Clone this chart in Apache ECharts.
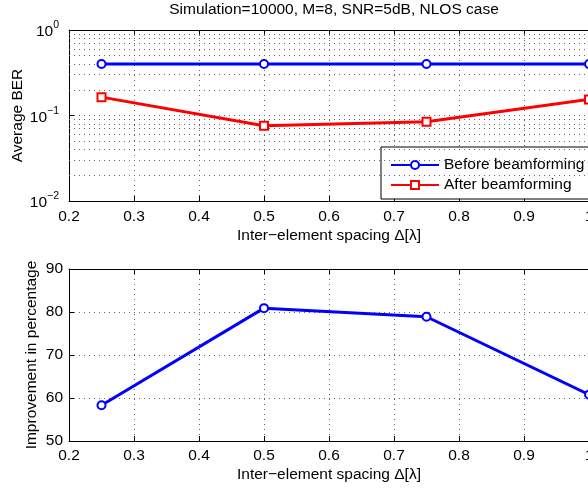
<!DOCTYPE html>
<html>
<head>
<meta charset="utf-8">
<script src="https://cdn.jsdelivr.net/npm/echarts@6/dist/echarts.min.js"></script>
<style>
  html, body { margin: 0; padding: 0; background: #fff; }
  #chart { width: 588px; height: 489px; }
</style>
</head>
<body>
<div id="chart"></div>
<script>
// Inter-element spacing (in wavelengths)
var spacing = [0.25, 0.5, 0.75, 1.0];
// Average BER before / after beamforming
var berBefore = [0.4, 0.4, 0.4, 0.4];
var berAfter = [0.164, 0.0757, 0.0843, 0.154];
// Improvement in percentage
var improvement = [58.3, 80.9, 78.9, 60.8];
// Minor grid levels on the log BER axis
var berMinorLevels = [0.02, 0.03, 0.04, 0.05, 0.06, 0.07, 0.08, 0.09,
                      0.2, 0.3, 0.4, 0.5, 0.6, 0.7, 0.8, 0.9];

var FONT = 'Liberation Sans, Arial, Helvetica, sans-serif';
var FS = 15.5;
var dotted = { color: '#666', width: 1, type: [1, 4] };

function pairs(xs, ys) {
  return xs.map(function (x, i) { return [x, ys[i]]; });
}

function xAxisMain(gridIndex, labelMargin, nameGap) {
  return {
    type: 'value', gridIndex: gridIndex, position: 'bottom',
    min: 0.2, max: 1, interval: 0.1,
    name: 'Inter\u2212element spacing \u0394[\u03bb]',
    nameLocation: 'middle', nameGap: nameGap, nameMoveOverlap: false,
    nameTextStyle: { fontFamily: FONT, fontSize: FS, color: '#000' },
    axisLine: { show: true, onZero: false, lineStyle: { color: '#000', width: 1 } },
    axisTick: { show: true, inside: true, length: 5, lineStyle: { color: '#000' } },
    axisLabel: {
      fontFamily: FONT, fontSize: FS, color: '#000', margin: labelMargin,
      hideOverlap: false,
      formatter: function (v) { return String(Math.round(v * 10) / 10); }
    },
    splitLine: { show: true, lineStyle: dotted }
  };
}

function xAxisTop(gridIndex) {
  return {
    type: 'value', gridIndex: gridIndex, position: 'top',
    min: 0.2, max: 1, interval: 0.1,
    axisLine: { show: true, onZero: false, lineStyle: { color: '#000', width: 1 } },
    axisTick: { show: true, inside: true, length: 5, lineStyle: { color: '#000' } },
    axisLabel: { show: false },
    splitLine: { show: false }
  };
}

var chart = echarts.init(document.getElementById('chart'), null, { renderer: 'canvas' });

chart.setOption({
  backgroundColor: '#fff',
  animation: false,
  title: {
    text: 'Simulation=10000, M=8, SNR=5dB, NLOS case',
    left: 329, top: -3, textAlign: 'center',
    textStyle: { fontFamily: FONT, fontSize: FS, fontWeight: 'normal', color: '#000' }
  },
  grid: [
    { left: 69, top: 30, width: 520, height: 171, outerBoundsMode: 'none', containLabel: false },
    { left: 69, top: 269, width: 520, height: 172, outerBoundsMode: 'none', containLabel: false }
  ],
  xAxis: [
    xAxisMain(0, 8, 27),
    xAxisTop(0),
    xAxisMain(1, 7, 26),
    xAxisTop(1)
  ],
  yAxis: [
    {
      type: 'log', logBase: 10, gridIndex: 0, min: 0.01, max: 1,
      name: 'Average BER', nameLocation: 'middle', nameGap: 43, nameMoveOverlap: false,
      nameTextStyle: { fontFamily: FONT, fontSize: FS, color: '#000' },
      axisLine: { show: true, onZero: false, lineStyle: { color: '#000', width: 1 } },
      axisTick: { show: true, inside: true, length: 5, lineStyle: { color: '#000' } },
      axisLabel: {
        margin: 10,
        formatter: function (v) {
          var e = Math.round(Math.log10(v));
          var s = e < 0 ? '\u2212' + (-e) : String(e);
          return '{b|10}{s|' + s + '}';
        },
        rich: {
          b: { fontFamily: FONT, fontSize: FS, color: '#000', verticalAlign: 'bottom', lineHeight: 20 },
          s: { fontFamily: FONT, fontSize: 10.5, color: '#000', verticalAlign: 'top', lineHeight: 20 }
        }
      },
      splitLine: { show: true, lineStyle: dotted }
    },
    {
      type: 'value', gridIndex: 1, min: 50, max: 90, interval: 10,
      name: 'Improvement in percentage', nameLocation: 'middle', nameGap: 29, nameMoveOverlap: false,
      nameTextStyle: { fontFamily: FONT, fontSize: FS, color: '#000' },
      axisLine: { show: true, onZero: false, lineStyle: { color: '#000', width: 1 } },
      axisTick: { show: true, inside: true, length: 5, lineStyle: { color: '#000' } },
      axisLabel: { fontFamily: FONT, fontSize: FS, color: '#000', margin: 6 },
      splitLine: { show: true, lineStyle: dotted }
    }
  ],
  legend: {
    data: ['Before beamforming', 'After beamforming'],
    left: 381, top: 147,
    orient: 'vertical',
    backgroundColor: '#fff',
    borderColor: '#000', borderWidth: 1, borderRadius: 0,
    padding: [10, 20, 6, 9],
    itemWidth: 48, itemHeight: 10, itemGap: 4,
    textStyle: { fontFamily: FONT, fontSize: FS, color: '#000' }
  },
  series: [
    {
      name: 'Before beamforming', type: 'line',
      xAxisIndex: 0, yAxisIndex: 0,
      data: pairs(spacing, berBefore),
      color: '#0000ff',
      lineStyle: { color: '#0000ff', width: 3 },
      symbol: 'emptyCircle', symbolSize: 8,
      itemStyle: { color: '#0000ff', borderColor: '#0000ff', borderWidth: 3 },
      z: 5,
      markLine: {
        silent: true, symbol: 'none', label: { show: false },
        lineStyle: dotted, animation: false,
        data: berMinorLevels.map(function (v) { return { yAxis: v }; })
      }
    },
    {
      name: 'After beamforming', type: 'line',
      xAxisIndex: 0, yAxisIndex: 0,
      data: pairs(spacing, berAfter),
      color: '#ff0000',
      lineStyle: { color: '#ff0000', width: 3 },
      symbol: 'emptyRect', symbolSize: 8,
      itemStyle: { color: '#ff0000', borderColor: '#ff0000', borderWidth: 3 },
      z: 5
    },
    {
      name: 'Improvement', type: 'line',
      xAxisIndex: 2, yAxisIndex: 1,
      data: pairs(spacing, improvement),
      lineStyle: { color: '#0000ff', width: 3 },
      symbol: 'emptyCircle', symbolSize: 8,
      itemStyle: { color: '#0000ff', borderColor: '#0000ff', borderWidth: 3 },
      z: 5
    }
  ]
});
</script>
</body>
</html>
